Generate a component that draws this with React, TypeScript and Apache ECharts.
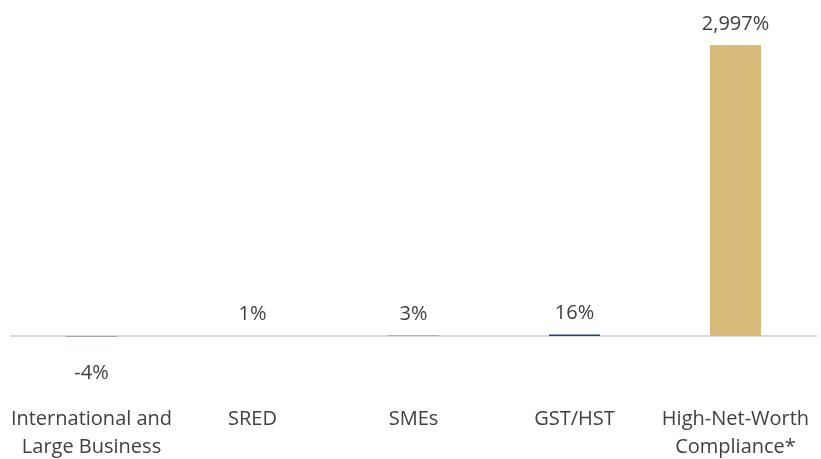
import React, { useEffect, useRef } from "react";
import * as echarts from "echarts";

const categories = [
  "International and\nLarge Business",
  "SRED",
  "SMEs",
  "GST/HST",
  "High-Net-Worth\nCompliance*",
];
const values = [-4, 1, 3, 16, 2997];
const barColors = ["#8c6a80", "#1f4480", "#1f4480", "#1f4480", "#d9ba7a"];

export default function App() {
  const ref = useRef<HTMLDivElement>(null);
  useEffect(() => {
    if (!ref.current) return;
    const chart = echarts.init(ref.current, null, { renderer: "svg" });
    const font = "'Open Sans', 'Segoe UI', sans-serif";
    chart.setOption({
      animation: false,
      grid: { left: 11, right: 5, top: 45, bottom: 120 },
      xAxis: {
        type: "category",
        data: categories,
        axisLine: { onZero: true, lineStyle: { color: "#d9d9d9", width: 2 } },
        axisTick: { show: false },
        axisLabel: {
          color: "#404040",
          fontSize: 20,
          fontFamily: font,
          margin: 64,
          lineHeight: 28,
          interval: 0,
        },
      },
      yAxis: {
        type: "value",
        min: -30,
        max: 2997,
        show: false,
        splitLine: { show: false },
      },
      series: [
        {
          type: "bar",
          barWidth: 51,
          data: values.map((v, i) => ({
            value: v,
            itemStyle: { color: barColors[i] },
            label:
              v < 0
                ? { position: "bottom", distance: 25 }
                : { position: "top", distance: 13 },
          })),
          label: {
            show: true,
            color: "#404040",
            fontSize: 20,
            fontFamily: font,
            formatter: (p: any) => p.value.toLocaleString("en-US") + "%",
          },
        },
      ],
    });
    return () => chart.dispose();
  }, []);
  return (
    <div
      ref={ref}
      style={{ position: "fixed", left: 0, top: 0, width: 821, height: 459 }}
    />
  );
}
